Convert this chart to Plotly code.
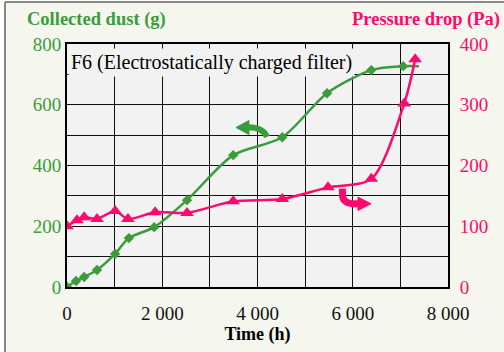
import plotly.graph_objects as go

# Data
dust_time = [0, 190, 360, 630, 1010, 1300, 1830, 2520, 3490, 4520, 5460, 6390, 7060]
dust_g = [0, 20, 33, 56, 109, 161, 197, 286, 434, 493, 638, 714, 727]
dust_end_time = [7060, 7390]
dust_end_g = [727, 727]

press_time = [0, 210, 360, 630, 1010, 1280, 1850, 2520, 3490, 4520, 5480, 6390, 7080, 7310]
press_pa = [100, 110, 115, 112, 125, 112, 123, 122, 141, 145, 164, 178, 302, 375]

x_ticks = [0, 2000, 4000, 6000, 8000]
x_ticktext = ["0", "2 000", "4 000", "6 000", "8 000"]
y1_ticks = [0, 200, 400, 600, 800]
y2_ticks = [0, 100, 200, 300, 400]

GREEN = "#3a9c3a"
PINK = "#ff0a6c"
FONT = "Liberation Serif"

fig = go.Figure()
fig.add_trace(go.Scatter(x=dust_time + dust_end_time[1:], y=dust_g + dust_end_g[1:], mode="lines",
                         line=dict(color=GREEN, width=2.5, shape="spline", smoothing=0.8),
                         showlegend=False, hoverinfo="skip"))
fig.add_trace(go.Scatter(x=dust_time, y=dust_g, mode="markers",
                         marker=dict(symbol="diamond", size=8, color=GREEN),
                         showlegend=False))
fig.add_trace(go.Scatter(x=press_time, y=press_pa, mode="lines+markers", yaxis="y2",
                         line=dict(color=PINK, width=2.5, shape="spline", smoothing=0.8),
                         marker=dict(symbol="triangle-up", size=12, color=PINK),
                         showlegend=False))

grid = dict(showgrid=True, gridcolor="#111111", gridwidth=1)
fig.update_layout(
    width=504, height=352,
    margin=dict(l=67, r=56, t=44, b=65, autoexpand=False),
    paper_bgcolor="#f5f6ee", plot_bgcolor="#f2f2f2",
    font=dict(family=FONT, size=19, color="black"),
    xaxis=dict(range=[0, 8000], tickvals=x_ticks, ticktext=x_ticktext,
               showline=True, linecolor="black", linewidth=2, mirror=True,
               zeroline=False, ticks="", ticklabelstandoff=8,
               tickfont=dict(size=19, color="#111"),
               minor=dict(dtick=1000, showgrid=True, gridcolor="#111111", gridwidth=1),
               title=dict(text="<b>Time (h)</b>", font=dict(size=18), standoff=3),
               **grid),
    yaxis=dict(range=[0, 800], tickvals=y1_ticks, showline=True, linecolor="black",
               linewidth=2, zeroline=False, ticks="", tickfont=dict(size=19, color=GREEN),
               minor=dict(dtick=100, showgrid=True, gridcolor="#111111", gridwidth=1),
               **grid),
    yaxis2=dict(range=[0, 400], tickvals=y2_ticks, overlaying="y", side="right",
                showline=True, linecolor="black", linewidth=2, showgrid=False,
                zeroline=False, ticks="", ticklabelstandoff=6,
                tickfont=dict(size=19, color=PINK)),
)

# Titles
fig.add_annotation(text="<b>Collected dust (g)</b>", xref="paper", yref="paper",
                   x=-0.109, y=1.099, xanchor="left", yanchor="middle", showarrow=False,
                   font=dict(family=FONT, size=18.5, color=GREEN))
fig.add_annotation(text="<b>Pressure drop (Pa)</b>", xref="paper", yref="paper",
                   x=1.1417, y=1.099, xanchor="right", yanchor="middle", showarrow=False,
                   font=dict(family=FONT, size=18.5, color=PINK))
# Label box
fig.add_annotation(text="F6 (Electrostatically charged filter)", xref="paper", yref="paper",
                   x=0.003, y=0.985, xanchor="left", yanchor="top", showarrow=False,
                   bgcolor="#f2f2f2", borderpad=2,
                   font=dict(family=FONT, size=20, color="black"))

# Arrows (green -> left axis, pink -> right axis)
fig.add_shape(type="path", xref="x", yref="y",
              path="M 4199,494 Q 4110,527 3790,526",
              line=dict(color=GREEN, width=6))
fig.add_shape(type="path", xref="x", yref="y",
              path="M 3549,525 L 3820,548 L 3820,502 Z",
              line=dict(color=GREEN, width=1), fillcolor=GREEN)
fig.add_shape(type="path", xref="x", yref="y2",
              path="M 5780,162 L 5790,148 Q 5820,136 6120,137",
              line=dict(color=PINK, width=7))
fig.add_shape(type="path", xref="x", yref="y2",
              path="M 6383,137 L 6110,148 L 6110,126 Z",
              line=dict(color=PINK, width=1), fillcolor=PINK)

# Outer frame: white margin strips, gray left/top lines
fig.add_shape(type="rect", xref="paper", yref="paper", x0=-0.2, x1=-0.1627, y0=-0.3, y1=1.2,
              line=dict(width=0), fillcolor="white", layer="below")
fig.add_shape(type="rect", xref="paper", yref="paper", x0=-0.2, x1=1.2, y0=1.1728, y1=1.2,
              line=dict(width=0), fillcolor="white", layer="below")
fig.add_shape(type="line", xref="paper", yref="paper", x0=-0.1627, x1=-0.1627, y0=-0.3, y1=1.1728,
              line=dict(color="#888888", width=2))
fig.add_shape(type="line", xref="paper", yref="paper", x0=-0.1627, x1=1.2, y0=1.1728, y1=1.1728,
              line=dict(color="#888888", width=2))

fig.write_html("out.html")
